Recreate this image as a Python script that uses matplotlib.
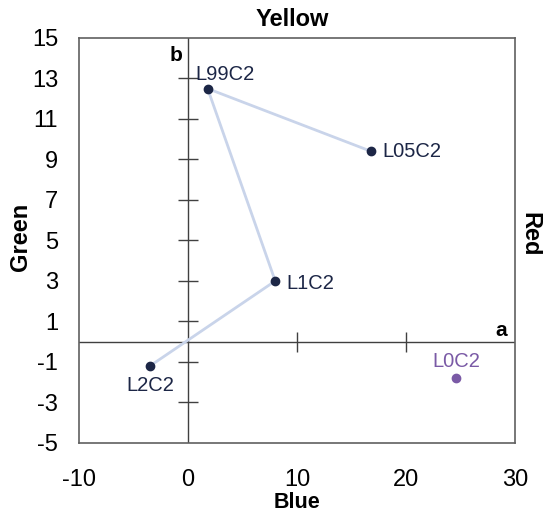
import matplotlib
matplotlib.use("Agg")
import matplotlib.pyplot as plt

plt.rcParams['font.family'] = ['Liberation Sans', 'DejaVu Sans']
plt.rcParams['axes.unicode_minus'] = False

names = ["L05C2", "L99C2", "L1C2", "L2C2"]
a_vals = [16.8, 1.8, 8.0, -3.5]
b_vals = [9.4, 12.5, 3.0, -1.2]

ref_name = "L0C2"
ref_a = 24.6
ref_b = -1.8

xticks = [-10, 0, 10, 20, 30]
yticks = [15, 13, 11, 9, 7, 5, 3, 1, -1, -3, -5]

dark = "#1c2646"
purple = "#7a5aa6"
linec = "#c9d4ea"

fig = plt.figure(figsize=(5.43, 5.13), dpi=100)
ax = fig.add_axes([0.1455, 0.1365, 0.803, 0.7895])
ax.set_xlim(-10, 30)
ax.set_ylim(-5, 15)

for s in ax.spines.values():
    s.set_color("#606060")
    s.set_linewidth(1.2)

ax.axhline(0, color="#404040", lw=1.0, zorder=1)
ax.axvline(0, color="#404040", lw=1.0, zorder=1)

inner_y = [t for t in yticks if t not in (15, -5)]
inner_x = [t for t in xticks if t not in (-10, 0, 30)]
ax.plot([0] * len(inner_y), inner_y, ls="none", marker="_", ms=15, mew=1.0, color="#404040", zorder=1)
ax.plot(inner_x, [0] * len(inner_x), ls="none", marker="|", ms=15, mew=1.0, color="#404040", zorder=1)

ax.plot(a_vals, b_vals, color=linec, lw=2, zorder=2)
ax.plot(a_vals, b_vals, ls="none", marker="o", ms=6, color=dark, zorder=3)
ax.plot([ref_a], [ref_b], ls="none", marker="o", ms=6, color=purple, zorder=3)

offsets = {"L05C2": (8, 0, "left", "center"),
           "L99C2": (-9, 10, "left", "center"),
           "L1C2": (8, -2, "left", "center"),
           "L2C2": (0, -14, "center", "center")}
for n, x, y in zip(names, a_vals, b_vals):
    dx, dy, ha, va = offsets[n]
    ax.annotate(n, (x, y), xytext=(dx, dy), textcoords="offset points",
                ha=ha, va=va, fontsize=14.5, color=dark)
ax.annotate(ref_name, (ref_a, ref_b), xytext=(0, 12), textcoords="offset points",
            ha="center", va="center", fontsize=14.5, color=purple)

ax.set_xticks(xticks)
ax.set_yticks(yticks)
ax.tick_params(axis="both", length=0, labelsize=17, colors="black")
ax.tick_params(axis="x", pad=19)
ax.tick_params(axis="y", pad=15)

ax.text(0.49, 1.045, "Yellow", transform=ax.transAxes, ha="center", va="center",
        fontsize=17, fontweight="bold")
fig.text(0.547, 0.0, "Blue", ha="center", va="bottom",
         fontsize=15.5, fontweight="bold")
ax.text(-0.135, 0.51, "Green", transform=ax.transAxes, ha="center", va="center",
        fontsize=17, fontweight="bold", rotation=90)
ax.text(1.033, 0.516, "Red", transform=ax.transAxes, ha="center", va="center",
        fontsize=17, fontweight="bold", rotation=-90)
ax.text(-0.5, 14.6, "b", ha="right", va="top", fontsize=15, fontweight="bold")
ax.text(29.3, 0.3, "a", ha="right", va="baseline", fontsize=15, fontweight="bold")

fig.savefig("out.png", dpi=100)
